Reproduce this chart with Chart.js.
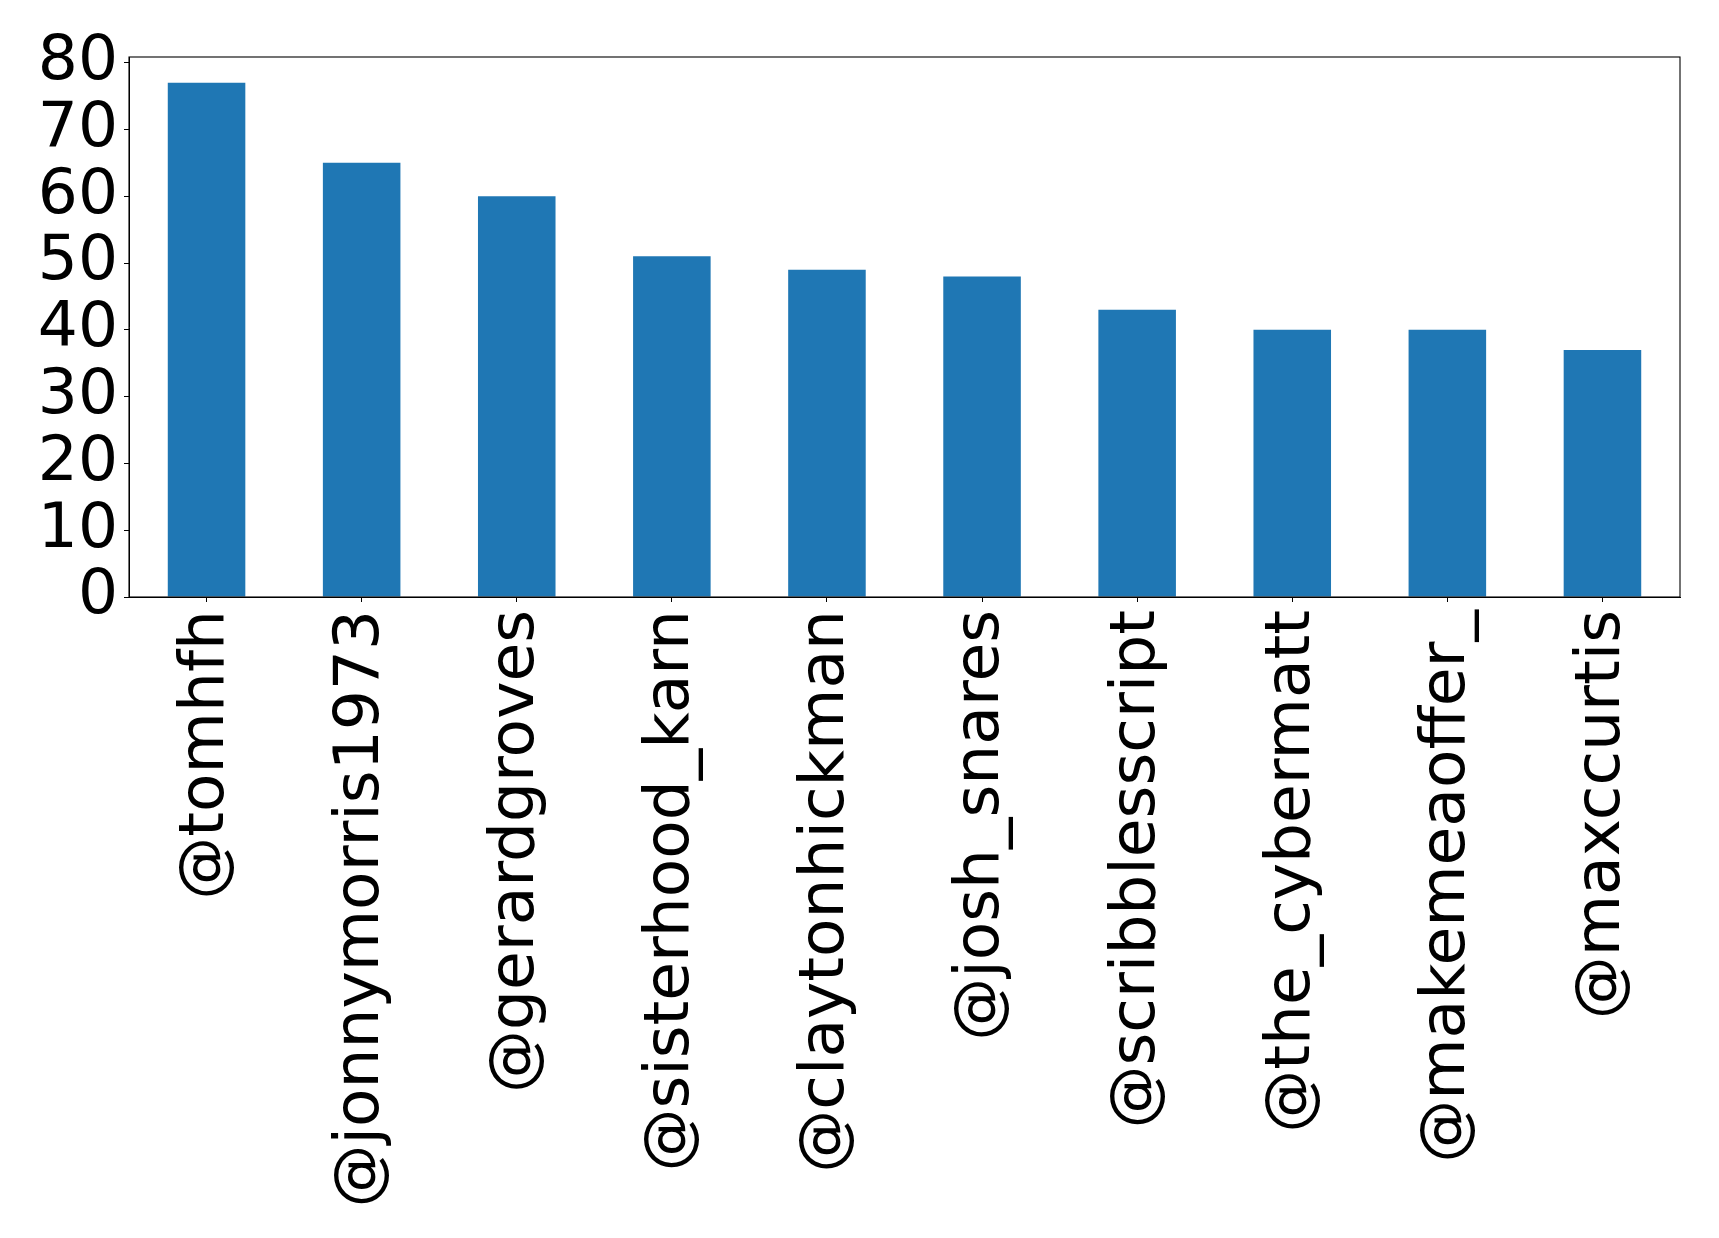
<!DOCTYPE html>
<html>
<head>
<meta charset="utf-8">
<script src="https://cdn.jsdelivr.net/npm/chart.js@4"></script>
<style>
  html, body { margin: 0; padding: 0; background: #fff; }
</style>
</head>
<body>
<canvas id="chart" width="1719" height="1238"></canvas>
<script>
// Data
const users = ['@tomhfh', '@jonnymorris1973', '@gerardgroves', '@sisterhood_karn', '@claytonhickman',
               '@josh_snares', '@scribblesscript', '@the_cybermatt', '@makemeaoffer_', '@maxccurtis'];
const counts = [77, 65, 60, 51, 49, 48, 43, 40, 40, 37];
const yTicks = [0, 10, 20, 30, 40, 50, 60, 70, 80];

const FONT = { family: 'DejaVu Sans', size: 63 };

// Draw the full frame round the plot area
const frame = {
    id: 'frame',
    afterDraw(chart) {
        const a = chart.chartArea;
        const c = chart.ctx;
        c.save();
        c.strokeStyle = '#000';
        c.lineWidth = 1.1;
        c.strokeRect(a.left, a.top, a.right - a.left, a.bottom - a.top);
        c.restore();
    }
};

new Chart(document.getElementById('chart'), {
    type: 'bar',
    data: {
        labels: users,
        datasets: [{
            data: counts,
            backgroundColor: '#1f77b4',
            barPercentage: 0.5,
            categoryPercentage: 1.0
        }]
    },
    options: {
        responsive: false,
        devicePixelRatio: 1,
        animation: false,
        layout: { padding: { left: 0, top: 57, right: 39, bottom: 0 } },
        plugins: { legend: { display: false }, tooltip: { enabled: false } },
        scales: {
            x: {
                offset: true,
                grid: { display: true, offset: false, drawOnChartArea: false, drawTicks: true, tickLength: 5, color: '#000' },
                border: { display: true, color: '#000', width: 1 },
                ticks: {
                    color: '#000', font: FONT, autoSkip: false,
                    minRotation: 90, maxRotation: 90, padding: 8
                },
                afterFit(scale) { scale.height = 1238 - 597; }
            },
            y: {
                min: 0,
                max: 80.85,
                grid: { display: true, drawOnChartArea: false, drawTicks: true, tickLength: 5, color: '#000' },
                border: { display: true, color: '#000', width: 1 },
                ticks: { color: '#000', font: FONT, padding: 6, autoSkip: false },
                afterBuildTicks(scale) { scale.ticks = yTicks.map(v => ({ value: v })); },
                afterFit(scale) { scale.width = 129; }
            }
        }
    },
    plugins: [frame]
});
</script>
</body>
</html>
